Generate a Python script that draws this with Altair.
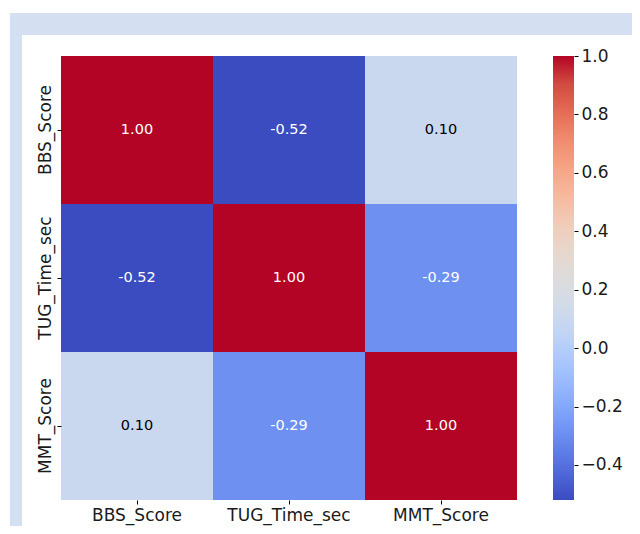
import altair as alt
import pandas as pd

variables = ["BBS_Score", "TUG_Time_sec", "MMT_Score"]
corr_bbs = [1.00, -0.52, 0.10]
corr_tug = [-0.52, 1.00, -0.29]
corr_mmt = [0.10, -0.29, 1.00]
colorbar_ticks = [-0.4, -0.2, 0.0, 0.2, 0.4, 0.6, 0.8, 1.0]
vmin, vmax = -0.52, 1.0

matrix = [corr_bbs, corr_tug, corr_mmt]
rows = []
for i, r in enumerate(variables):
    for j, c in enumerate(variables):
        v = matrix[i][j]
        rows.append({"row": r, "col": c, "value": v, "label": f"{v:.2f}"})
df = pd.DataFrame(rows)

coolwarm = ["#3b4cc0", "#4f69d9", "#6485ec", "#7b9ff9", "#93b5fe", "#aac7fd",
            "#c0d4f5", "#d2dbe8", "#dddcdc", "#e8d6cc", "#f2cbb7", "#f7b89c",
            "#f6a385", "#f08b6e", "#e36c55", "#d24b40", "#b40426"]
n = len(coolwarm) - 1
dom = [vmin + (vmax - vmin) * k / n for k in range(n + 1)]

W, H = 456, 444
FONT = "DejaVu Sans"

bg_data = alt.Data(values=[{"a": 1}])
blue_bg = alt.Chart(bg_data).mark_rect(color="#d4e0f1").encode(
    x=alt.value(-51), x2=alt.value(W + 300), y=alt.value(-43), y2=alt.value(H + 200)
)
white_bg = alt.Chart(bg_data).mark_rect(color="white").encode(
    x=alt.value(-39), x2=alt.value(W + 300), y=alt.value(-21), y2=alt.value(H + 200)
)

xaxis = alt.Axis(labelAngle=0, domain=False, tickSize=4, tickColor="black",
                 labelPadding=3, labelFontSize=17, labelFont=FONT,
                 labelColor="#1a1a1a", zindex=2)
xenc = alt.X("col:N", sort=variables, title=None,
             scale=alt.Scale(paddingInner=0, paddingOuter=0), axis=xaxis)
yenc = alt.Y("row:N", sort=variables, title=None,
             scale=alt.Scale(paddingInner=0, paddingOuter=0),
             axis=alt.Axis(orient="left", labelAngle=-90, labelAlign="center",
                           labelBaseline="bottom", zindex=2,
                           domain=False, tickSize=4, tickColor="black",
                           labelPadding=3, labelFontSize=17, labelFont=FONT,
                           labelColor="#1a1a1a"))

heat = alt.Chart(df).mark_rect().encode(
    x=xenc,
    y=yenc,
    color=alt.Color("value:Q",
                    scale=alt.Scale(domain=dom, range=coolwarm, interpolate="rgb"),
                    legend=None),
)

text = alt.Chart(df).mark_text(font=FONT, fontSize=14.5).encode(
    x=xenc,
    y=alt.Y("row:N", sort=variables, axis=None,
            scale=alt.Scale(paddingInner=0, paddingOuter=0)),
    text="label:N",
    color=alt.condition("datum.value > 0.05 && datum.value < 0.5",
                        alt.value("black"), alt.value("white")),
)

# colorbar: gradient rect spanning the colour scale's extent on its own y scale
cb_data = alt.Data(values=[{"lo": vmin, "hi": vmax}])
gradient = alt.Gradient(
    gradient="linear", x1=0, x2=0, y1=1, y2=0,
    stops=[alt.GradientStop(offset=k / n, color=c) for k, c in enumerate(coolwarm)],
)
colorbar = alt.Chart(cb_data).mark_rect(fill=gradient, clip=False).encode(
    x=alt.value(W + 36), x2=alt.value(W + 57),
    y=alt.Y("lo:Q", scale=alt.Scale(domain=[vmin, vmax], nice=False, zero=False),
            axis=alt.Axis(orient="right", offset=57, values=colorbar_ticks, format=".1f",
                          title=None, grid=False, domain=False, ticks=True, tickSize=4,
                          tickColor="black", labelPadding=3, labelFontSize=17,
                          labelFont=FONT, labelColor="#1a1a1a", labelOverlap=False,
                          labelFlush=False, zindex=2)),
    y2="hi:Q",
)

chart = alt.layer(blue_bg, white_bg, heat, text, colorbar).resolve_scale(
    y="independent"
).resolve_axis(y="independent").properties(
    width=W, height=H,
    autosize=alt.AutoSizeParams(type="none"),
    padding={"left": 53, "top": 48, "right": 115, "bottom": 26},
    background="white",
).configure_view(stroke=None)

chart.save("out.html", embed_options={"renderer": "svg", "actions": False})
